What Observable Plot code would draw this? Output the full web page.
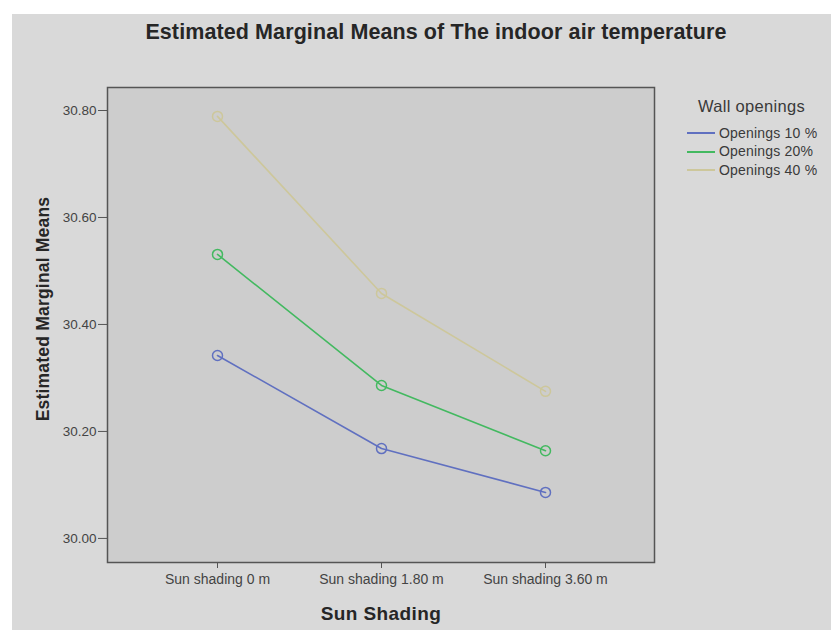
<!DOCTYPE html>
<html>
<head>
<meta charset="utf-8">
<script src="https://cdn.jsdelivr.net/npm/d3@7"></script>
<script src="https://cdn.jsdelivr.net/npm/@observablehq/plot@0.6"></script>
<style>
  body { margin: 0; background: #ffffff; font-family: "Liberation Sans", Arial, sans-serif; }
  #wrap { position: relative; width: 831px; height: 630px; overflow: hidden; background: #ffffff; }
  #bg { position: absolute; left: 12px; top: 14px; right: 0; bottom: 0; background: #d9d9d9; }
  #chart { position: absolute; left: 0; top: 0; }
  .t { position: absolute; color: #262626; white-space: nowrap; line-height: 1.2; }
  #title { left: 0; width: 872px; top: 20px; text-align: center; font-weight: bold; font-size: 21.5px; letter-spacing: 0.1px; }
  #ylab { left: 43px; top: 309px; transform: translate(-50%, -50%) rotate(-90deg); font-weight: bold; font-size: 17.5px; letter-spacing: 0.2px; }
  #xlab { left: 381px; top: 614px; transform: translate(-50%, -50%); font-weight: bold; font-size: 19px; letter-spacing: 0.4px; }
  #legend { position: absolute; left: 687px; top: 97px; font-size: 14px; color: #3a3a3a; line-height: 1.1; letter-spacing: 0.2px; }
  #legend .lt { font-size: 16.5px; margin-left: 11px; margin-bottom: 9px; color: #3a3a3a; letter-spacing: 0.3px; }
  #legend .row { display: flex; align-items: center; height: 18.5px; }
  #legend .sw { display: inline-block; width: 28px; height: 2px; margin-right: 4px; }
</style>
</head>
<body>
<div id="wrap">
  <div id="bg"></div>
  <div id="chart"></div>
  <div class="t" id="title">Estimated Marginal Means of The indoor air temperature</div>
  <div class="t" id="ylab">Estimated Marginal Means</div>
  <div class="t" id="xlab">Sun Shading</div>
  <div id="legend"></div>
</div>
<script>
const categories = ["Sun shading 0 m", "Sun shading 1.80 m", "Sun shading 3.60 m"];
const seriesNames = ["Openings 10 %", "Openings 20%", "Openings 40 %"];
const openings10 = [30.342, 30.168, 30.086];
const openings20 = [30.531, 30.286, 30.164];
const openings40 = [30.789, 30.458, 30.275];
const seriesColors = ["#6070c0", "#43b960", "#cdc79b"];
const yTicks = [30.0, 30.2, 30.4, 30.6, 30.8];
const legendTitle = "Wall openings";

const seriesValues = [openings10, openings20, openings40];
const data = [];
seriesNames.forEach((s, i) => {
  categories.forEach((c, j) => data.push({series: s, category: c, value: seriesValues[i][j]}));
});

const plot = Plot.plot({
  width: 831,
  height: 630,
  marginLeft: 107,
  marginRight: 177,
  marginTop: 87,
  marginBottom: 68,
  style: {background: "transparent", fontFamily: "Liberation Sans, Arial, sans-serif", color: "#444"},
  x: {type: "point", domain: categories, padding: 0.665, label: null},
  y: {domain: [29.955, 30.843], label: null},
  color: {domain: seriesNames, range: seriesColors},
  marks: [
    Plot.frame({fill: "#cdcdcd", stroke: "#555", strokeWidth: 1.5}),
    Plot.axisY({ticks: yTicks, tickFormat: d3.format(".2f"), tickSize: 9, tickPadding: 2, stroke: "#555", fill: "#444", fontSize: 13.5}),
    Plot.axisX({tickSize: 6, tickPadding: 6, stroke: "#555", fill: "#444", fontSize: 14}),
    Plot.line(data, {x: "category", y: "value", z: "series", stroke: "series", strokeWidth: 1.6}),
    Plot.dot(data, {x: "category", y: "value", stroke: "series", r: 5, strokeWidth: 1.5, fill: "none"})
  ]
});
document.getElementById("chart").appendChild(plot);

const leg = document.getElementById("legend");
const lt = document.createElement("div");
lt.className = "lt";
lt.textContent = legendTitle;
leg.appendChild(lt);
seriesNames.forEach((s, i) => {
  const row = document.createElement("div");
  row.className = "row";
  const sw = document.createElement("span");
  sw.className = "sw";
  sw.style.background = seriesColors[i];
  const lab = document.createElement("span");
  lab.textContent = s;
  row.appendChild(sw);
  row.appendChild(lab);
  leg.appendChild(row);
});
</script>
</body>
</html>
